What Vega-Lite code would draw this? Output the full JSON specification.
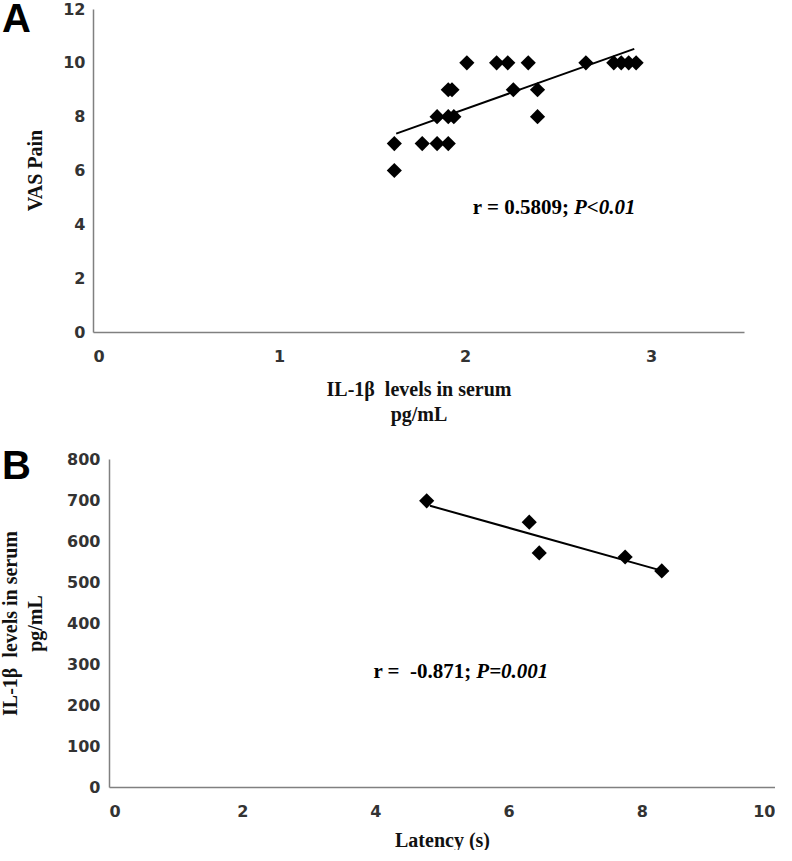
{
  "$schema": "https://vega.github.io/schema/vega-lite/v6.json",
  "padding": {"left": 0, "top": 0, "right": 0, "bottom": 0},
  "background": "white",
  "spacing": 23,
  "config": {
    "view": {"stroke": null},
    "axis": {
      "grid": false,
      "ticks": false,
      "domainColor": "#808080",
      "domainWidth": 1.5,
      "labelFont": "DejaVu Sans",
      "labelFontWeight": "bold",
      "labelFontSize": 16,
      "labelColor": "#333333",
      "titleFont": "Liberation Serif",
      "titleFontWeight": "bold",
      "titleFontSize": 20,
      "titleColor": "#111111"
    },
    "title": {
      "font": "Liberation Sans",
      "fontSize": 40,
      "fontWeight": "bold",
      "anchor": "start",
      "frame": "group",
      "baseline": "top",
      "offset": 0,
      "color": "#000000"
    }
  },
  "datasets": {
    "painA": [
      {"il1b": 1.62, "vas": 7},
      {"il1b": 1.62, "vas": 6},
      {"il1b": 1.77, "vas": 7},
      {"il1b": 1.85, "vas": 7},
      {"il1b": 1.91, "vas": 7},
      {"il1b": 1.85, "vas": 8},
      {"il1b": 1.91, "vas": 8},
      {"il1b": 1.94, "vas": 8},
      {"il1b": 1.91, "vas": 9},
      {"il1b": 1.93, "vas": 9},
      {"il1b": 2.01, "vas": 10},
      {"il1b": 2.17, "vas": 10},
      {"il1b": 2.23, "vas": 10},
      {"il1b": 2.34, "vas": 10},
      {"il1b": 2.26, "vas": 9},
      {"il1b": 2.39, "vas": 9},
      {"il1b": 2.39, "vas": 8},
      {"il1b": 2.65, "vas": 10},
      {"il1b": 2.80, "vas": 10},
      {"il1b": 2.84, "vas": 10},
      {"il1b": 2.88, "vas": 10},
      {"il1b": 2.92, "vas": 10}
    ],
    "trendA": [
      {"il1b": 1.63, "vas": 7.37},
      {"il1b": 2.91, "vas": 10.52}
    ],
    "noteA": [
      {"il1b": 2.58, "vas": 4.6, "left": "r = 0.5809;", "right": "P<0.01"}
    ],
    "latB": [
      {"latency": 4.77, "il1b": 698},
      {"latency": 6.31, "il1b": 646},
      {"latency": 6.46, "il1b": 571},
      {"latency": 7.75, "il1b": 561},
      {"latency": 8.30, "il1b": 527}
    ],
    "trendB": [
      {"latency": 4.82, "il1b": 686},
      {"latency": 8.27, "il1b": 529}
    ],
    "noteB": [
      {"latency": 5.5, "il1b": 280, "left": "r =\u00a0 -0.871;", "right": "P=0.001"}
    ]
  },
  "vconcat": [
    {
      "width": 635,
      "height": 323,
      "title": {"text": "A", "dx": -107, "dy": 43},
      "encoding": {
        "x": {
          "field": "il1b", "type": "quantitative",
          "scale": {"domain": [0, 3.5], "nice": false, "range": [-16, 635]},
          "axis": {
            "values": [0, 1, 2, 3],
            "labelPadding": 16,
            "title": ["IL-1β\u00a0 levels in serum", "pg/mL"],
            "titleBaseline": "middle",
            "titleY": 57,
            "titleLineHeight": 25
          }
        },
        "y": {
          "field": "vas", "type": "quantitative",
          "scale": {"domain": [0, 12], "nice": false},
          "axis": {
            "values": [0, 2, 4, 6, 8, 10, 12],
            "offset": 16,
            "labelPadding": 8,
            "title": "VAS Pain",
            "titleBaseline": "middle",
            "titleX": -58,
            "titleY": 161
          }
        }
      },
      "layer": [
        {
          "data": {"name": "trendA"},
          "mark": {"type": "line", "color": "#000000", "strokeWidth": 2}
        },
        {
          "data": {"name": "painA"},
          "mark": {"type": "point", "shape": "diamond", "filled": true, "color": "#000000", "opacity": 1, "size": 230}
        },
        {
          "data": {"name": "noteA"},
          "mark": {"type": "text", "align": "right", "baseline": "middle", "dx": -4, "font": "Liberation Serif", "fontWeight": "bold", "fontSize": 21, "color": "#000000"},
          "encoding": {"text": {"field": "left"}}
        },
        {
          "data": {"name": "noteA"},
          "mark": {"type": "text", "align": "left", "baseline": "middle", "dx": 1, "font": "Liberation Serif", "fontWeight": "bold", "fontStyle": "italic", "fontSize": 21, "color": "#000000"},
          "encoding": {"text": {"field": "right"}}
        }
      ]
    },
    {
      "width": 666,
      "height": 328,
      "title": {"text": "B", "dx": -107, "dy": 40},
      "encoding": {
        "x": {
          "field": "latency", "type": "quantitative",
          "scale": {"domain": [0, 10], "nice": false},
          "axis": {
            "values": [0, 2, 4, 6, 8, 10],
            "labelPadding": 16,
            "title": "Latency (s)",
            "titleBaseline": "middle",
            "titleY": 53
          }
        },
        "y": {
          "field": "il1b", "type": "quantitative",
          "scale": {"domain": [0, 800], "nice": false},
          "axis": {
            "values": [0, 100, 200, 300, 400, 500, 600, 700, 800],
            "labelPadding": 9,
            "title": ["IL-1β\u00a0 levels in serum", "pg/mL"],
            "titleBaseline": "middle",
            "titleLineHeight": 25,
            "titleX": -99,
            "titleY": 164
          }
        }
      },
      "layer": [
        {
          "data": {"name": "trendB"},
          "mark": {"type": "line", "color": "#000000", "strokeWidth": 2}
        },
        {
          "data": {"name": "latB"},
          "mark": {"type": "point", "shape": "diamond", "filled": true, "color": "#000000", "opacity": 1, "size": 230}
        },
        {
          "data": {"name": "noteB"},
          "mark": {"type": "text", "align": "right", "baseline": "middle", "dx": -4, "font": "Liberation Serif", "fontWeight": "bold", "fontSize": 21, "color": "#000000"},
          "encoding": {"text": {"field": "left"}}
        },
        {
          "data": {"name": "noteB"},
          "mark": {"type": "text", "align": "left", "baseline": "middle", "dx": 1, "font": "Liberation Serif", "fontWeight": "bold", "fontStyle": "italic", "fontSize": 21, "color": "#000000"},
          "encoding": {"text": {"field": "right"}}
        }
      ]
    }
  ]
}
